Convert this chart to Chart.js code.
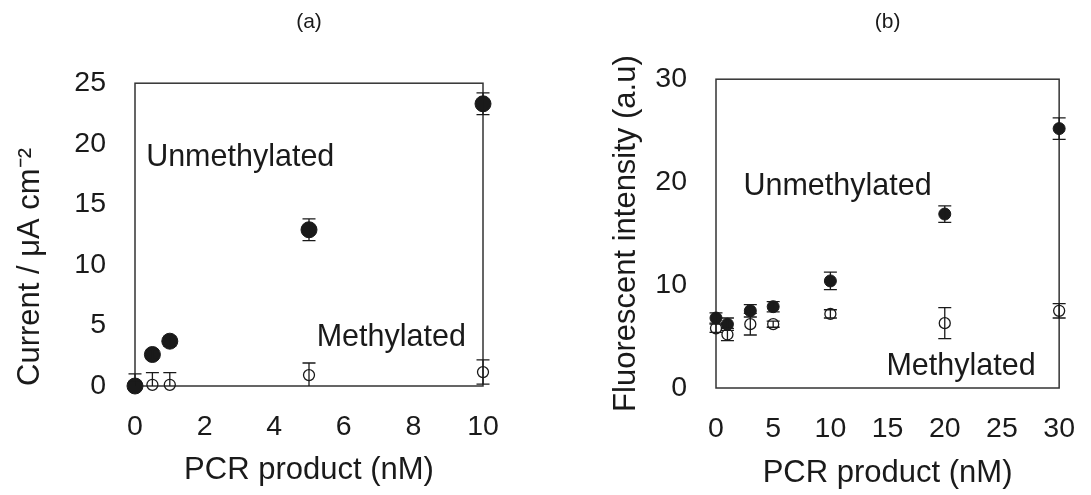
<!DOCTYPE html>
<html>
  <head>
    <meta charset="utf-8">
    <title>PCR product response</title>
    <script src="https://cdn.jsdelivr.net/npm/chart.js@4.4.1/dist/chart.umd.min.js"></script>
    <style>
      body { margin: 0; background: #fff; }
      #wrap { position: relative; width: 1091px; height: 495px; }
      #chart_a { position: absolute; left: 0; top: 0; }
      #chart_b { position: absolute; left: 545px; top: 0; }
    </style>
  </head>
  <body>
    <div id="wrap">
      <canvas id="chart_a" width="545" height="495"></canvas>
      <canvas id="chart_b" width="546" height="495"></canvas>
    </div>

    <script type="text/javascript">
      // (a) electrochemical current vs PCR product
      var a_dose = [0, 0.5, 1, 5, 10];
      var a_unmeth = [0, 2.6, 3.7, 12.9, 23.3];
      var a_unmeth_err = [0.3, 0.4, 0.4, 0.9, 0.9];
      var a_meth = [0, 0.1, 0.1, 0.9, 1.15];
      var a_meth_err = [1.0, 1.0, 1.0, 1.0, 1.0];

      // (b) fluorescent intensity vs PCR product
      var b_dose = [0, 1, 3, 5, 10, 20, 30];
      var b_unmeth = [6.8, 6.2, 7.5, 7.9, 10.4, 16.9, 25.2];
      var b_unmeth_err = [0.5, 0.6, 0.6, 0.5, 0.85, 0.8, 1.05];
      var b_meth = [5.8, 5.2, 6.2, 6.2, 7.2, 6.3, 7.5];
      var b_meth_err = [0.4, 0.6, 1.05, 0.3, 0.4, 1.5, 0.7];

      var INK = "#1a1a1a";
      var FONT = "'Liberation Sans', Arial, sans-serif";

      function to_points(xs, ys) {
        return xs.map(function(x, i) { return {x: x, y: ys[i]}; });
      }

      // vertical error bars with caps, drawn through the scales;
      // whatever falls below the axis is cut off like in the original
      var errorBars = {
        id: "errorBars",
        afterDatasetsDraw: function(chart) {
          var ctx = chart.ctx, area = chart.chartArea;
          var xs = chart.scales.x, ys = chart.scales.y;
          ctx.save();
          ctx.beginPath();
          ctx.rect(0, 0, chart.width, area.bottom);
          ctx.clip();
          ctx.strokeStyle = INK;
          ctx.lineWidth = 1.3;
          chart.data.datasets.forEach(function(ds) {
            if (!ds.errors) return;
            ds.data.forEach(function(p, i) {
              var e = ds.errors[i];
              var px = xs.getPixelForValue(p.x);
              var top = ys.getPixelForValue(p.y + e);
              var bot = ys.getPixelForValue(p.y - e);
              ctx.beginPath();
              ctx.moveTo(px, top); ctx.lineTo(px, bot);
              ctx.moveTo(px - 6.5, top); ctx.lineTo(px + 6.5, top);
              ctx.moveTo(px - 6.5, bot); ctx.lineTo(px + 6.5, bot);
              ctx.stroke();
            });
          });
          ctx.restore();
        }
      };

      // box round the plot area
      var frame = {
        id: "frame",
        beforeDatasetsDraw: function(chart) {
          var a = chart.chartArea, ctx = chart.ctx;
          ctx.save();
          ctx.strokeStyle = "#333";
          ctx.lineWidth = 1.5;
          ctx.strokeRect(a.left, a.top, a.right - a.left, a.bottom - a.top);
          ctx.restore();
        }
      };

      // in-plot text labels, placed in data units
      var seriesLabels = {
        id: "seriesLabels",
        afterDraw: function(chart, args, opts) {
          var ctx = chart.ctx;
          ctx.save();
          ctx.fillStyle = INK;
          ctx.font = "30.5px " + FONT;
          ctx.textAlign = "left";
          ctx.textBaseline = "alphabetic";
          (opts.items || []).forEach(function(it) {
            ctx.fillText(it.text,
              chart.scales.x.getPixelForValue(it.x),
              chart.scales.y.getPixelForValue(it.y));
          });
          ctx.restore();
        }
      };

      function make_chart(canvas, cfg) {
        return new Chart(document.getElementById(canvas), {
          type: "scatter",
          data: {
            datasets: [{
              label: "Unmethylated",
              data: to_points(cfg.dose, cfg.unmeth),
              errors: cfg.unmeth_err,
              pointStyle: "circle",
              pointRadius: cfg.filledR,
              backgroundColor: INK,
              borderColor: INK,
              borderWidth: 1,
              clip: false
            }, {
              label: "Methylated",
              data: to_points(cfg.dose, cfg.meth),
              errors: cfg.meth_err,
              pointStyle: "circle",
              pointRadius: cfg.openR,
              backgroundColor: "rgba(255,255,255,0)",
              borderColor: INK,
              borderWidth: 1.3,
              clip: false
            }]
          },
          options: {
            responsive: false,
            animation: false,
            events: [],
            layout: { padding: cfg.padding },
            plugins: {
              legend: { display: false },
              tooltip: { enabled: false },
              title: {
                display: true,
                text: cfg.title,
                fullSize: false,
                color: INK,
                font: { family: FONT, size: 21, weight: "normal" },
                padding: { top: 10, bottom: cfg.titleGap }
              },
              seriesLabels: { items: cfg.labels }
            },
            scales: {
              x: {
                type: "linear",
                min: cfg.xMax[0], max: cfg.xMax[1],
                grid: { display: false },
                border: { display: false },
                ticks: { stepSize: cfg.xStep, color: INK, padding: 16,
                         font: { family: FONT, size: 28.5 } },
                title: { display: true, text: "PCR product (nM)", color: INK,
                         font: { family: FONT, size: 31 },
                         padding: { top: 0, bottom: cfg.xTitlePad } },
                afterFit: function(s) { s.height = cfg.xHeight; }
              },
              y: {
                min: cfg.yMax[0], max: cfg.yMax[1],
                grid: { display: false },
                border: { display: false },
                ticks: { stepSize: cfg.yStep, color: INK, padding: 21,
                         font: { family: FONT, size: 28.5 } },
                title: { display: true, text: cfg.yTitle, color: INK, align: cfg.yAlign,
                         font: { family: FONT, size: 31 }, padding: { top: 12, bottom: 0 } },
                afterFit: function(s) { s.width = cfg.yWidth; }
              }
            }
          },
          plugins: [frame, errorBars, seriesLabels]
        });
      }

      make_chart("chart_a", {
        dose: a_dose, unmeth: a_unmeth, unmeth_err: a_unmeth_err,
        meth: a_meth, meth_err: a_meth_err,
        filledR: 8, openR: 5.5,
        title: "(a)", titleGap: 48,
        padding: { left: 0, right: 62, top: 0, bottom: 0 },
        xMax: [0, 10], xStep: 2, yMax: [0, 25], yStep: 5,
        xHeight: 109, yWidth: 135, xTitlePad: 6,
        yTitle: "Current / \u03bcA cm\u207b\u00b2", yAlign: "start",
        labels: [{ text: "Unmethylated", x: 0.32, y: 18.15 },
                 { text: "Methylated", x: 5.22, y: 3.3 }]
      });

      make_chart("chart_b", {
        dose: b_dose, unmeth: b_unmeth, unmeth_err: b_unmeth_err,
        meth: b_meth, meth_err: b_meth_err,
        filledR: 6, openR: 5.5,
        title: "(b)", titleGap: 44,
        padding: { left: 51, right: 25, top: 0, bottom: 0 },
        xMax: [0, 30], xStep: 5, yMax: [0, 30], yStep: 10,
        xHeight: 107, yWidth: 120, xTitlePad: 3,
        yTitle: "Fluorescent intensity (a.u)", yAlign: "center",
        labels: [{ text: "Unmethylated", x: 2.4, y: 18.75 },
                 { text: "Methylated", x: 14.9, y: 1.24 }]
      });
    </script>
  </body>
</html>
